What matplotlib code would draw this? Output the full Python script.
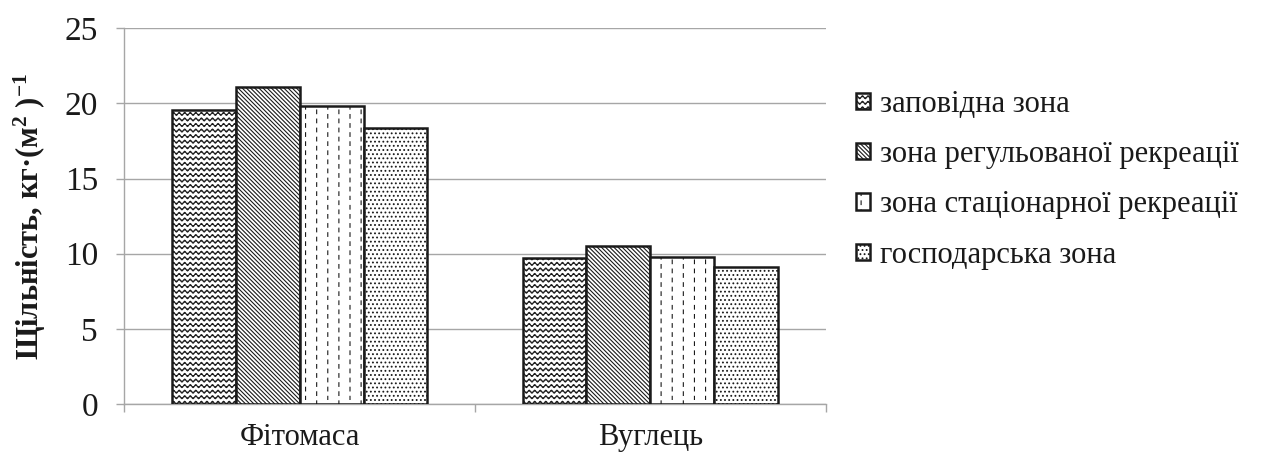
import numpy as np
import matplotlib
matplotlib.use("Agg")
import matplotlib.pyplot as plt
from matplotlib import hatch as mhatch
from matplotlib.path import Path

categories = ["Фітомаса", "Вуглець"]
series_names = ["заповідна зона", "зона регульованої рекреації",
                "зона стаціонарної рекреації", "господарська зона"]
zapovidna = [19.55, 9.7]
rehulovana = [21.08, 10.5]
statsionarna = [19.8, 9.77]
hospodarska = [18.35, 9.1]
y_ticks = [0, 5, 10, 15, 20, 25]


# ---- custom hatch patterns -------------------------------------------------
class WaveHatch(mhatch.HatchPatternBase):
    def __init__(self, hatch, density):
        self.num_rows = int(hatch.count('~') * density)
        self.npts = 0
        if self.num_rows:
            self.periods = self.num_rows
            self.npts = self.periods * 8 + 1
        self.num_vertices = self.num_rows * self.npts

    def set_vertices_and_codes(self, vertices, codes):
        if not self.num_rows:
            return
        x = np.linspace(0, 1, self.npts)
        amp = 0.27 / self.num_rows
        k = 0
        for i in range(self.num_rows):
            y0 = (i + 0.5) / self.num_rows
            y = y0 + amp * np.sin(2 * np.pi * self.periods * x)
            vertices[k:k + self.npts, 0] = x
            vertices[k:k + self.npts, 1] = y
            codes[k] = Path.MOVETO
            codes[k + 1:k + self.npts] = Path.LINETO
            k += self.npts


class DashHatch(mhatch.HatchPatternBase):
    def __init__(self, hatch, density):
        n = hatch.count('!')
        self.ncols = int(n * 9) if n else 0
        self.nrows = int(n * 11) if n else 0
        self.num_vertices = self.ncols * self.nrows * 2

    def set_vertices_and_codes(self, vertices, codes):
        if not self.ncols:
            return
        k = 0
        for c in range(self.ncols):
            x = (c + 0.5) / self.ncols
            off = 0.5 if c % 2 else 0.0
            for r in range(self.nrows):
                y0 = (r + off) / self.nrows
                y1 = y0 + 0.4 / self.nrows
                vertices[k] = (x, y0)
                vertices[k + 1] = (x, y1)
                codes[k] = Path.MOVETO
                codes[k + 1] = Path.LINETO
                k += 2


mhatch._hatch_types.append(WaveHatch)
mhatch._hatch_types.append(DashHatch)

# ---- figure ---------------------------------------------------------------
plt.rcParams['font.family'] = ['Liberation Serif', 'DejaVu Serif']
plt.rcParams['mathtext.default'] = 'regular'
plt.rcParams['hatch.linewidth'] = 0.8

fig = plt.figure(figsize=(12.7, 4.55), dpi=100)
ax = fig.add_axes([0.098, 0.112, 0.552, 0.826])

data = [zapovidna, rehulovana, statsionarna, hospodarska]
hatches = ['~~~', '\\' * 8, '!', '....']
x = np.arange(len(categories))
bw = 0.182
for i, (vals, h, name) in enumerate(zip(data, hatches, series_names)):
    ax.bar(x + (i - 1.5) * bw, vals, width=bw, facecolor='white',
           edgecolor='#1a1a1a', linewidth=1.8, hatch=h, label=name, zorder=3)

ax.set_xlim(-0.5, 1.5)
ax.set_ylim(0, 25)
ax.set_yticks(y_ticks)
ax.yaxis.grid(True, color='#a6a6a6', linewidth=1.0, zorder=0)
ax.set_axisbelow(True)
for s in ['top', 'right']:
    ax.spines[s].set_visible(False)
for s in ['left', 'bottom']:
    ax.spines[s].set_color('#a6a6a6')
    ax.spines[s].set_linewidth(1.0)

ax.set_xticks(x)
ax.set_xticklabels(categories)
ax.set_xticks([-0.5, 0.5, 1.5], minor=True)
ax.tick_params(axis='x', which='major', length=0, labelsize=22, pad=14,
               labelcolor='#1a1a1a')
ax.tick_params(axis='x', which='minor', length=6, color='#a6a6a6', width=1.0)
ax.tick_params(axis='y', length=6, color='#a6a6a6', width=1.0, labelsize=24,
               labelcolor='#1a1a1a', pad=13)

ax.set_ylabel('Щільність, кг·(м$^{2}$ )$^{-1}$', fontsize=22,
              fontweight='bold', labelpad=12, color='#1a1a1a')

leg = ax.legend(loc='center left', bbox_to_anchor=(0.662, 0.605),
                bbox_transform=fig.transFigure, frameon=False, fontsize=22,
                handlelength=0.45, handleheight=0.45, handletextpad=0.35,
                labelspacing=0.7, borderpad=0)
for t in leg.get_texts():
    t.set_color('#1a1a1a')

fig.savefig('out.png', dpi=100)
